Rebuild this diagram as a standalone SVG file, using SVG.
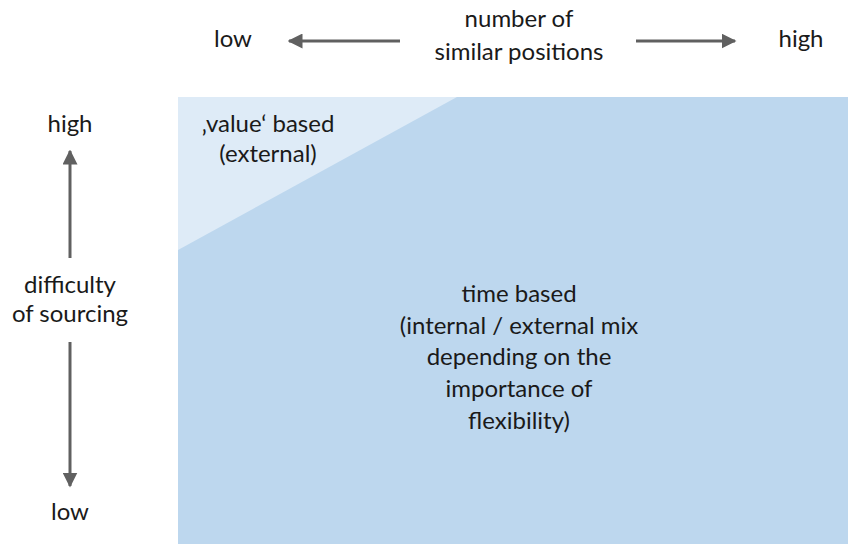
<svg xmlns="http://www.w3.org/2000/svg" width="848" height="544" viewBox="0 0 848 544">
<style>
text{font-family:Lato,"Open Sans","Liberation Sans",sans-serif;font-size:24px;fill:#1a1a1a;text-anchor:middle}
.ax{stroke:#606060;stroke-width:3;fill:none}
</style>
<defs>
<marker id="ah" viewBox="0 0 10 10" refX="9" refY="5" markerWidth="5" markerHeight="5" orient="auto" markerUnits="strokeWidth">
<path d="M0,0 L10,5 L0,10 z" fill="#606060"/>
</marker>
</defs>
<rect width="848" height="544" fill="#fff"/>
<g id="area-time">
<rect x="178" y="97" width="670" height="447" fill="#BDD7EE"/>
<text x="519" y="302">time based</text>
<text x="519" y="334">(internal / external mix</text>
<text x="519" y="365">depending on the</text>
<text x="519" y="397">importance of</text>
<text x="519" y="429">flexibility)</text>
</g>
<g id="area-value">
<polygon points="178,97 457,97 178,250" fill="#DEEBF7"/>
<text x="268" y="132">‚value‘ based</text>
<text x="268" y="162">(external)</text>
</g>
<g id="axis-x">
<text x="233" y="47">low</text>
<text x="519" y="27">number of</text>
<text x="519" y="60">similar positions</text>
<text x="801" y="47">high</text>
</g>
<g id="axis-y">
<text x="70" y="132">high</text>
<text x="70" y="293">difficulty</text>
<text x="70" y="322">of sourcing</text>
<text x="70" y="520">low</text>
</g>
<g id="connectors">
<line class="ax" x1="400" y1="41" x2="289" y2="41" marker-end="url(#ah)"/>
<line class="ax" x1="636" y1="41" x2="735" y2="41" marker-end="url(#ah)"/>
<line class="ax" x1="70" y1="258" x2="70" y2="151" marker-end="url(#ah)"/>
<line class="ax" x1="70" y1="342" x2="70" y2="486" marker-end="url(#ah)"/>
</g>
</svg>
